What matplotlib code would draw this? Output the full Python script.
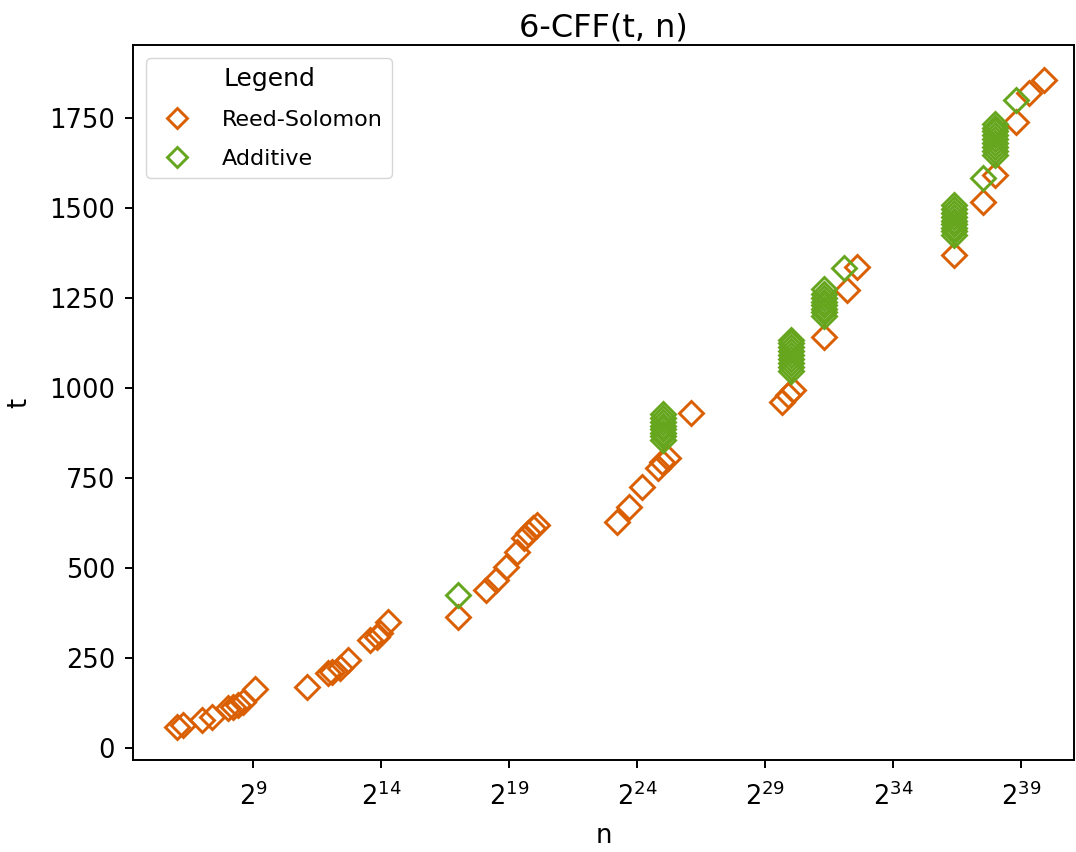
import matplotlib
matplotlib.use("Agg")
import matplotlib.pyplot as plt
from matplotlib.ticker import FixedLocator, NullLocator, LogFormatterSciNotation

# Reed-Solomon: log2(n) and t
rs_log2n = [6.03, 6.27, 7.0, 7.4, 8.02, 8.2, 8.4, 8.6, 9.08,
            11.1, 11.93, 12.1, 12.4, 12.7, 13.57, 13.84, 13.96, 14.27,
            17.0, 18.1, 18.5, 18.9, 19.3, 19.6, 19.74, 19.94, 20.1,
            23.2, 23.7, 24.2, 24.8, 24.98, 25.2, 26.1,
            29.66, 29.9, 30.1, 31.3, 32.2, 32.6,
            36.4, 37.5, 37.98, 38.8, 39.3, 39.9]
rs_t = [58, 64, 78, 86, 111, 114, 119, 128, 164,
        169, 208, 211, 222, 245, 300, 308, 319, 350,
        364, 439, 467, 503, 544, 583, 597, 611, 619,
        628, 670, 725, 778, 795, 806, 930,
        961, 980, 994, 1142, 1272, 1336,
        1369, 1517, 1592, 1739, 1819, 1856]

# Additive: log2(n) and t
add_log2n = [17.0,
             25.0, 25.0, 25.0, 25.0, 25.0, 25.0, 25.0, 25.0,
             30.0, 30.0, 30.0, 30.0, 30.0, 30.0, 30.0, 30.0, 30.0,
             31.3, 31.3, 31.3, 31.3, 31.3, 31.3, 31.3, 31.3,
             32.1,
             36.4, 36.4, 36.4, 36.4, 36.4, 36.4, 36.4, 36.4, 36.4,
             37.5,
             37.98, 37.98, 37.98, 37.98, 37.98, 37.98, 37.98, 37.98, 37.98,
             38.8]
add_t = [425,
         856, 866, 876, 886, 896, 906, 916, 928,
         1047, 1058, 1069, 1080, 1091, 1102, 1113, 1124, 1133,
         1200, 1210, 1220, 1230, 1240, 1250, 1262, 1275,
         1333,
         1425, 1435, 1445, 1455, 1465, 1475, 1485, 1497, 1508,
         1583,
         1647, 1658, 1669, 1680, 1691, 1702, 1713, 1723, 1733,
         1800]

xtick_exps = [9, 14, 19, 24, 29, 34, 39]

rs_n = [2.0 ** e for e in rs_log2n]
add_n = [2.0 ** e for e in add_log2n]

ORANGE = "#d95f02"
GREEN = "#66a61e"

fig = plt.figure(figsize=(10.76, 8.52), dpi=100)
ax = fig.add_axes([133 / 1076, 92 / 852, 941 / 1076, 715 / 852])

ax.plot(rs_n, rs_t, linestyle="none", marker="D", mfc="none", mec=ORANGE,
        ms=12.3, mew=2.1, label="Reed-Solomon")
ax.plot(add_n, add_t, linestyle="none", marker="D", mfc="none", mec=GREEN,
        ms=12.3, mew=2.1, label="Additive")

ax.set_xscale("log", base=2)
ax.set_xlim(2 ** 4.31, 2 ** 41.07)
ax.set_ylim(-33, 1953)
ax.xaxis.set_major_locator(FixedLocator([2.0 ** e for e in xtick_exps]))
ax.xaxis.set_major_formatter(LogFormatterSciNotation(base=2))
ax.xaxis.set_minor_locator(NullLocator())
ax.set_yticks([0, 250, 500, 750, 1000, 1250, 1500, 1750])

ax.tick_params(axis="both", labelsize=18.5, length=6, width=1.4)
ax.tick_params(axis="x", pad=10)
ax.tick_params(axis="y", pad=7)
for s in ax.spines.values():
    s.set_linewidth(1.4)

ax.set_xlabel("n", fontsize=18.5, labelpad=9)
ax.set_ylabel("t", fontsize=18.5, labelpad=12)
ax.set_title("6-CFF(t, n)", fontsize=23, pad=6)

leg = ax.legend(title="Legend", loc="upper left", fontsize=16, title_fontsize=18,
                markerscale=0.85, bbox_to_anchor=(0.0, 1.0), borderaxespad=0.6,
                labelspacing=0.85, handletextpad=1.0)

fig.savefig("out.png", dpi=100)
